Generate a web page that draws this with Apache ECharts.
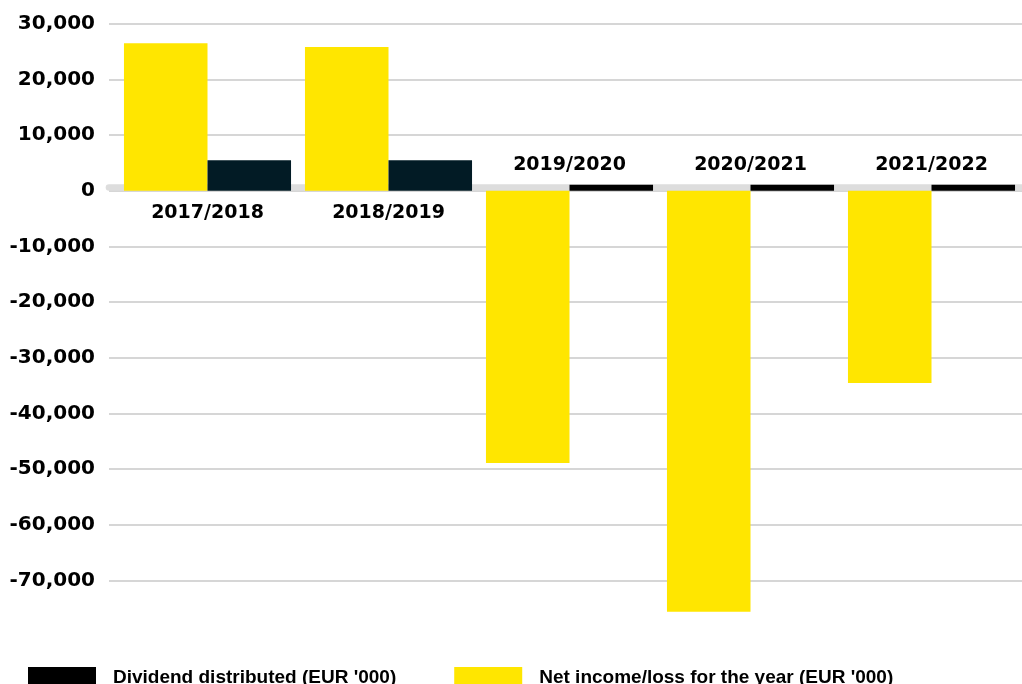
<!DOCTYPE html>
<html>
<head>
<meta charset="utf-8">
<style>
  html, body { margin: 0; padding: 0; background: #ffffff; }
  #chart { width: 1022px; height: 684px; }
</style>
<script src="https://cdn.jsdelivr.net/npm/echarts@6/dist/echarts.min.js"></script>
</head>
<body>
<div id="chart"></div>
<script>
// Fiscal years shown on the category axis
const years = ['2017/2018', '2018/2019', '2019/2020', '2020/2021', '2021/2022'];
// Net income / loss for the year, EUR '000
const netIncome = [26500, 25800, -48900, -75600, -34500];
// Dividend distributed, EUR '000
const dividend = [5500, 5500, 0, 0, 0];
// Value axis range and step
const yMin = -80000;
const yMax = 30000;
const yStep = 10000;

const YELLOW = '#ffe600';
const DARK = '#021b25';
const BLACK = '#000000';
const labelFont = 'DejaVu Sans';

const chartH = 684;
const gridTop = 23.7;
const gridBottom = 47.7;
// pixel row of the zero value, used to place the year labels and the zero band
const plotH = chartH - gridTop - gridBottom;
const zeroY = gridTop + (yMax / (yMax - yMin)) * plotH;

const fmt = v => v.toLocaleString('en-US');

const yearLabel = (margin, keep) => ({
  margin: margin,
  fontFamily: labelFont,
  fontWeight: 'bold',
  fontSize: 19,
  color: '#000',
  formatter: (v, i) => (keep(netIncome[i]) ? v : '')
});

const chart = echarts.init(document.getElementById('chart'));
chart.setOption({
  animation: false,
  backgroundColor: '#ffffff',
  grid: [
    // plotting area for the bars
    { left: 117, right: 0, top: gridTop, bottom: gridBottom, outerBoundsMode: 'none' },
    // slightly wider area that carries the horizontal gridlines
    { left: 109, right: 0, top: gridTop, bottom: gridBottom, outerBoundsMode: 'none' },
    // thin strip on the zero line holding the year labels
    { left: 117, right: 0, top: zeroY - 0.5, height: 1, outerBoundsMode: 'none' },
    // thin strip on the zero line carrying the grey zero band
    { left: 109, right: 0, top: zeroY, height: 1, outerBoundsMode: 'none' }
  ],
  legend: {
    left: 28,
    top: 667,
    padding: 0,
    itemWidth: 68,
    itemHeight: 22,
    itemGap: 58,
    icon: 'rect',
    data: [
      { name: "Dividend distributed (EUR '000)", itemStyle: { color: BLACK } },
      { name: "Net income/loss for the year (EUR '000)", itemStyle: { color: YELLOW } }
    ],
    textStyle: {
      fontFamily: 'Liberation Sans',
      fontWeight: 'bold',
      fontSize: 19,
      color: '#000',
      padding: [0, 0, 0, 12]
    }
  },
  xAxis: [
    {
      gridIndex: 0,
      type: 'category',
      data: years,
      show: false
    },
    {
      gridIndex: 1,
      type: 'category',
      data: years,
      axisLine: { show: false },
      axisTick: { show: false },
      axisLabel: { show: false }
    },
    {
      // years with a profit: label under the zero line
      gridIndex: 2,
      type: 'category',
      data: years,
      position: 'bottom',
      axisLine: { show: false, onZero: false },
      axisTick: { show: false },
      axisLabel: yearLabel(12.5, v => v >= 0)
    },
    {
      // years with a loss: label above the zero line
      gridIndex: 2,
      type: 'category',
      data: years,
      position: 'top',
      axisLine: { show: false, onZero: false },
      axisTick: { show: false },
      axisLabel: yearLabel(15.5, v => v < 0)
    },
    {
      // grey band resting on the zero line
      gridIndex: 3,
      type: 'category',
      data: years,
      position: 'top',
      offset: 3.3,
      axisLine: { show: true, onZero: false, lineStyle: { color: '#dddddd', width: 6.6 } },
      axisTick: { show: false },
      axisLabel: { show: false }
    }
  ],
  yAxis: [
    {
      gridIndex: 0,
      type: 'value',
      min: yMin,
      max: yMax,
      interval: yStep,
      axisLine: { show: false },
      axisTick: { show: false },
      splitLine: { show: false },
      axisLabel: {
        margin: 22,
        fontFamily: labelFont,
        fontWeight: 'bold',
        fontSize: 20,
        color: '#000',
        formatter: v => (v === yMin ? '' : fmt(v))
      }
    },
    {
      gridIndex: 1,
      type: 'value',
      min: yMin,
      max: yMax,
      interval: yStep,
      axisLine: { show: false },
      axisTick: { show: false },
      axisLabel: { show: false },
      splitLine: {
        show: true,
        showMinLine: false,
        lineStyle: { color: '#c8c8c8', width: 1.5 }
      }
    },
    { gridIndex: 2, type: 'value', min: 0, max: 1, show: false },
    { gridIndex: 3, type: 'value', min: 0, max: 1, show: false }
  ],
  series: [
    {
      name: "Net income/loss for the year (EUR '000)",
      type: 'bar',
      xAxisIndex: 0,
      yAxisIndex: 0,
      data: netIncome,
      itemStyle: { color: YELLOW },
      barGap: '0%',
      barCategoryGap: '7.7%',
      z: 3
    },
    {
      name: "Dividend distributed (EUR '000)",
      type: 'bar',
      xAxisIndex: 0,
      yAxisIndex: 0,
      data: dividend.map(v => ({ value: v, itemStyle: { color: v > 0 ? DARK : BLACK } })),
      itemStyle: { color: BLACK },
      barMinHeight: 6,
      z: 3
    }
  ]
});
</script>
</body>
</html>
